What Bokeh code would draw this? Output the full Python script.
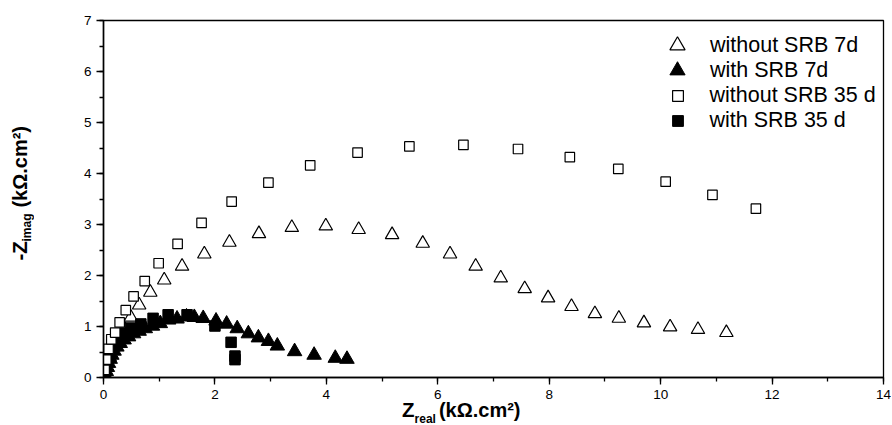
from bokeh.plotting import figure
from bokeh.models import Range1d, SingleIntervalTicker, Legend, LegendItem, Div
from bokeh.layouts import row, column
from bokeh.embed import file_html
from bokeh.resources import INLINE

# ---- data (kOhm.cm2) ----
tri_open_x = [0.05, 0.11, 0.18, 0.27, 0.37, 0.49, 0.64, 0.84, 1.09, 1.41, 1.81, 2.26, 2.79, 3.38, 3.99,
              4.58, 5.18, 5.73, 6.22, 6.68, 7.13, 7.56, 7.98, 8.40, 8.82, 9.25, 9.70, 10.17, 10.67, 11.18]
tri_open_y = [0.20, 0.40, 0.60, 0.78, 0.97, 1.18, 1.42, 1.67, 1.91, 2.18, 2.42, 2.65, 2.82, 2.94, 2.97,
              2.90, 2.80, 2.63, 2.42, 2.18, 1.95, 1.74, 1.56, 1.39, 1.25, 1.16, 1.07, 0.99, 0.94, 0.88]

tri_fill_x = [0.03, 0.05, 0.07, 0.09, 0.12, 0.15, 0.19, 0.24, 0.30, 0.37, 0.45, 0.54, 0.64, 0.75, 0.88, 1.02,
              1.17, 1.32, 1.49, 1.63, 1.79, 2.02, 2.21, 2.40, 2.60, 2.78, 2.96, 3.12, 3.43, 3.78, 4.16, 4.37]
tri_fill_y = [0.05, 0.12, 0.20, 0.28, 0.36, 0.44, 0.52, 0.60, 0.67, 0.74, 0.80, 0.86, 0.91, 0.96, 1.01, 1.06,
              1.13, 1.15, 1.19, 1.18, 1.16, 1.11, 1.05, 0.96, 0.86, 0.78, 0.71, 0.62, 0.51, 0.44, 0.38, 0.36]

sq_open_x = [0.02, 0.05, 0.09, 0.14, 0.21, 0.29, 0.40, 0.54, 0.74, 0.99, 1.33, 1.76, 2.30, 2.96, 3.71,
             4.56, 5.49, 6.46, 7.44, 8.37, 9.24, 10.09, 10.93, 11.71]
sq_open_y = [0.15, 0.35, 0.56, 0.75, 0.88, 1.08, 1.32, 1.59, 1.89, 2.24, 2.62, 3.03, 3.45, 3.82, 4.16,
             4.41, 4.53, 4.56, 4.48, 4.32, 4.09, 3.84, 3.58, 3.31]

sq_fill_x = [0.03, 0.06, 0.10, 0.16, 0.25, 0.37, 0.49, 0.67, 0.89, 1.16, 1.50, 2.00, 2.29, 2.36, 2.36]
sq_fill_y = [0.15, 0.30, 0.45, 0.60, 0.75, 0.88, 0.97, 1.05, 1.16, 1.23, 1.23, 1.01, 0.69, 0.42, 0.35]

labels = ["without SRB 7d", "with SRB 7d", "without SRB 35 d", "with SRB 35 d"]
x_title = ("Z", "real", "(kΩ.cm²)")
y_title = ("-Z", "imag", "(kΩ.cm²)")

FONT = "Liberation Sans"
LEFT_W = 45

p = figure(frame_width=780, frame_height=357,
           min_border_left=103 - LEFT_W, min_border_right=8, min_border_top=20, min_border_bottom=28,
           x_range=Range1d(0, 14), y_range=Range1d(0, 7),
           output_backend="svg", toolbar_location=None, margin=0)

p.background_fill_color = "white"
p.border_fill_color = "white"
p.outline_line_color = "black"
p.outline_line_width = 1.3
p.xgrid.visible = False
p.ygrid.visible = False

p.xaxis.ticker = SingleIntervalTicker(interval=2, num_minor_ticks=2)
p.yaxis.ticker = SingleIntervalTicker(interval=1, num_minor_ticks=2)
for ax in (p.xaxis[0], p.yaxis[0]):
    ax.axis_line_color = "black"
    ax.axis_line_width = 1.5
    ax.major_tick_line_color = "black"
    ax.major_tick_line_width = 1.3
    ax.minor_tick_line_color = "black"
    ax.minor_tick_line_width = 1.3
    ax.major_tick_out = 7
    ax.major_tick_in = 0
    ax.minor_tick_out = 4
    ax.minor_tick_in = 0
    ax.major_label_text_font = FONT
    ax.major_label_text_font_size = "13.5px"
    ax.major_label_text_color = "black"
    ax.major_label_standoff = 5

r1 = p.scatter(tri_open_x, tri_open_y, marker="triangle", size=13.5,
               fill_color="white", line_color="black", line_width=1.2)
r2 = p.scatter(tri_fill_x, tri_fill_y, marker="triangle", size=14.5,
               fill_color="black", line_color="black", line_width=1)
r4 = p.scatter(sq_fill_x, sq_fill_y, marker="square", size=10.5,
               fill_color="black", line_color="black", line_width=1)
r3 = p.scatter(sq_open_x, sq_open_y, marker="square", size=9.5,
               fill_color="white", line_color="black", line_width=1.2)

# one legend per entry so that each key can have its own size
legend_specs = [(labels[0], r1, 38, (555, 313), 14),
                (labels[1], r2, 38, (555, 288), 14),
                (labels[2], r3, 27, (560.5, 268.5), 19),
                (labels[3], r4, 27, (560.5, 243.5), 19)]
for text, rend, gsize, loc, standoff in legend_specs:
    p.add_layout(Legend(items=[LegendItem(label=text, renderers=[rend])],
                        location=loc, glyph_width=gsize, glyph_height=gsize, label_height=gsize,
                        label_standoff=standoff, padding=0, margin=0, spacing=0,
                        border_line_color=None, background_fill_alpha=0,
                        label_text_font=FONT, label_text_font_size="21.5px",
                        label_text_color="black"))

# axis titles with real subscripts (HTML text)
FONTCSS = "font-family:'Liberation Sans',Arial,sans-serif;font-weight:bold;color:black;white-space:nowrap;"
SUB_X = "font-size:12px;line-height:12px;display:inline-block;position:relative;top:6px;"
x_html = (f'<div style="{FONTCSS}font-size:20.5px;line-height:20px;margin-top:-8px;padding-left:357px;">'
          f'{x_title[0]}<span style="{SUB_X}">{x_title[1]}</span>'
          f'<span style="font-size:20px;margin-left:3px;">{x_title[2]}</span></div>')
y_html = (f'<div style="width:{LEFT_W}px;height:423px;display:flex;flex-direction:column;'
          f'justify-content:center;align-items:flex-start;box-sizing:border-box;'
          f'padding-bottom:36px;padding-left:8px;">'
          f'<div style="{FONTCSS}font-size:20.5px;line-height:normal;writing-mode:vertical-rl;'
          f'transform:rotate(180deg);">'
          f'{y_title[0]}<span style="font-size:12px;position:relative;left:-7px;">{y_title[1]}</span>'
          f'<span style="font-size:20px;"> {y_title[2]}</span></div></div>')

div_x = Div(text=x_html, width=892 - LEFT_W, height=18, margin=0, styles={"overflow": "visible"})
div_y = Div(text=y_html, width=LEFT_W, height=423, margin=0, styles={"overflow": "visible"})

layout = row(div_y, column(p, div_x, spacing=0, margin=0), spacing=0, margin=0)

open("out.html", "w").write(file_html(layout, INLINE))
